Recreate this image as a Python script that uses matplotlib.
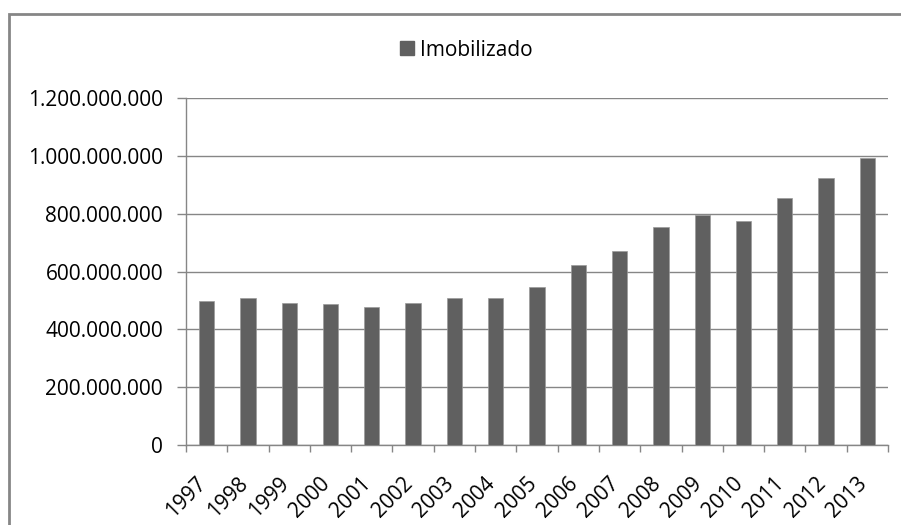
import matplotlib
matplotlib.use('Agg')
import matplotlib.pyplot as plt
import matplotlib.transforms as mtransforms
from matplotlib.ticker import FuncFormatter, FixedLocator
from matplotlib.patches import Rectangle, Patch

years = ['1997', '1998', '1999', '2000', '2001', '2002', '2003', '2004', '2005',
         '2006', '2007', '2008', '2009', '2010', '2011', '2012', '2013']
imobilizado = [498e6, 510e6, 491e6, 488e6, 478e6, 491e6, 507e6, 507e6, 547e6,
               623e6, 670e6, 754e6, 797e6, 774e6, 853e6, 924e6, 992e6]
yticks = [0, 200e6, 400e6, 600e6, 800e6, 1000e6, 1200e6]
series_name = 'Imobilizado'

plt.rcParams['font.family'] = ['Open Sans', 'DejaVu Sans']

W, H = 901, 525
fig = plt.figure(figsize=(W / 100, H / 100), dpi=100)
fig.patch.set_facecolor('white')

grey = '#868686'
bar_color = '#606060'

# outer frame (right and bottom edges run off the image)
fig.patches.append(Rectangle((9 / W, -0.2), 1.0, 1.2 - 14 / H, transform=fig.transFigure,
                             fill=False, edgecolor=grey, linewidth=2, clip_on=False))

ax = fig.add_axes([186 / W, 80 / H, 702 / W, 347 / H])
x = list(range(len(years)))
ax.bar(x, imobilizado, width=0.37, color=bar_color, edgecolor='#9a9a9a', linewidth=0.5, zorder=3)

ax.set_xlim(-0.5, len(years) - 0.5)
ax.set_ylim(0, 1200e6)
ax.set_yticks(yticks)
ax.yaxis.set_major_formatter(FuncFormatter(lambda v, p: f"{int(v):,}".replace(',', '.')))
ax.yaxis.grid(True, color=grey, linewidth=1, zorder=0)
ax.set_axisbelow(True)

for s in ['top', 'right']:
    ax.spines[s].set_visible(False)
for s in ['left', 'bottom']:
    ax.spines[s].set_color(grey)
    ax.spines[s].set_linewidth(1)

ax.tick_params(axis='y', length=6.5, width=1, color=grey, pad=10, labelsize=15, labelcolor='black')

ax.set_xticks(x)
ax.set_xticklabels(years, rotation=45, ha='right', va='top', rotation_mode='anchor')
ax.tick_params(axis='x', which='major', length=0, pad=20, labelsize=15)
offset = mtransforms.ScaledTranslation(-11 / 100, 0, fig.dpi_scale_trans)
for lbl in ax.get_xticklabels():
    lbl.set_transform(lbl.get_transform() + offset)
ax.xaxis.set_minor_locator(FixedLocator([i - 0.5 for i in range(len(years) + 1)]))
ax.tick_params(axis='x', which='minor', length=5, width=1, color=grey)

handle = Patch(facecolor=bar_color, edgecolor=bar_color, label=series_name)
fig.legend(handles=[handle], loc='center', bbox_to_anchor=(466.5 / W, 1 - 50 / H),
           frameon=False, fontsize=15, handlelength=0.65, handleheight=0.65,
           handletextpad=0.3)

fig.savefig('out.png', dpi=100)
